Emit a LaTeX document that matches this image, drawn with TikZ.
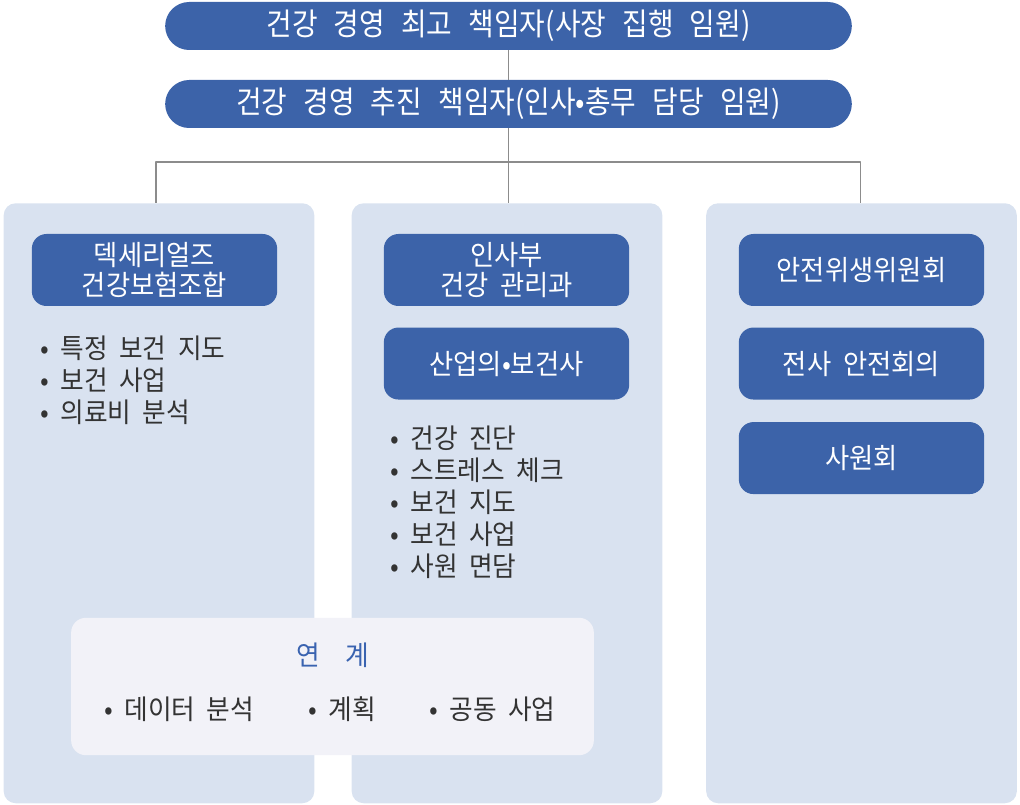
\documentclass[tikz,border=0pt]{standalone}
\usepackage{fontspec}
\setmainfont{Noto Sans CJK KR}[FakeStretch=0.94, WordSpace=2]
\newfontfamily\headfont{Noto Sans CJK KR}[FakeStretch=0.9, WordSpace=2.6]
\usetikzlibrary{positioning}
\definecolor{boxblue}{HTML}{3C63A9}
\definecolor{panelblue}{HTML}{D9E2F0}
\definecolor{linkgray}{HTML}{F2F2F8}
\definecolor{textdark}{HTML}{333333}
\definecolor{linegray}{HTML}{8C8C8C}
\definecolor{titleblue}{HTML}{3A63B0}
\tikzset{
  headbox/.style={fill=boxblue, text=white, rounded corners=18pt, minimum width=515pt, minimum height=36pt, inner sep=0pt, font=\headfont\fontsize{23.2}{26}\selectfont},
  panel/.style={fill=panelblue, rounded corners=9pt, minimum width=233pt, minimum height=450pt, anchor=north, inner sep=0pt},
  unitbox/.style={fill=boxblue, text=white, rounded corners=11pt, minimum width=184pt, minimum height=54pt, inner sep=0pt, align=center, font=\fontsize{21}{22}\selectfont},
  itemlist/.style={text=textdark, align=left, anchor=north west, inner sep=0pt, font=\fontsize{20.5}{24}\selectfont},
  linkitem/.style={text=textdark, anchor=west, inner sep=0pt, font=\fontsize{20.5}{24}\selectfont}
}
\begin{document}
\begin{tikzpicture}[x=0.75pt, y=-0.75pt, line join=round]
  \useasboundingbox (0,0) rectangle (1020,805);
  % top of the chart
  \node[headbox] (chief) at (508.5,26) {건강 경영 최고 책임자(사장 집행 임원)};
  \node[headbox] (promoter) at (508.5,104) {건강 경영 추진 책임자(인사•총무 담당 임원)};
  % three columns
  \node[panel] (pleft) at (159,203) {};
  \node[panel] (pmid) at (507,203) {};
  \node[panel] (pright) at (861.5,203) {};
  \coordinate (hub) at (508.5,162);
  \draw[linegray, line width=1pt] (chief) -- (promoter);
  \draw[linegray, line width=1pt] (promoter.south) -- (promoter.south |- pmid.north);
  \draw[linegray, line width=1pt] ([xshift=-2.25pt]pleft.north) |- (hub) -| ([xshift=-1pt]pright.north);
  % left column
  \node[unitbox] (union) at (154.5,270) {덱세리얼즈\\건강보험조합};
  \node[itemlist] (unionlist) at (40,336) {• 특정 보건 지도\\• 보건 사업\\• 의료비 분석};
  % middle column
  \node[unitbox] (hrdept) at (506.5,270) {인사부\\건강 관리과};
  \node[unitbox, below=15.75pt of hrdept] (doctor) {산업의•보건사};
  \node[itemlist] (hrlist) at (390,426) {• 건강 진단\\• 스트레스 체크\\• 보건 지도\\• 보건 사업\\• 사원 면담};
  % right column
  \node[unitbox] (safety) at (861.5,270) {안전위생위원회};
  \node[unitbox, below=15.75pt of safety] (safetymeet) {전사 안전회의};
  \node[unitbox, below=16.5pt of safetymeet] (staffmeet) {사원회};
  % link box over the columns
  \node[fill=linkgray, rounded corners=11pt, minimum width=392pt, minimum height=103pt] (link) at (332.5,686.5) {};
  \node[text=titleblue, font=\fontsize{20.5}{24}\selectfont] (linktitle) at (333,655) {연 \hspace{0.5em}계};
  \node[linkitem] (data) at (104,709) {• 데이터 분석};
  \node[linkitem] (plan) at (308,709) {• 계획};
  \node[linkitem] (joint) at (429,709) {• 공동 사업};
\end{tikzpicture}
\end{document}
